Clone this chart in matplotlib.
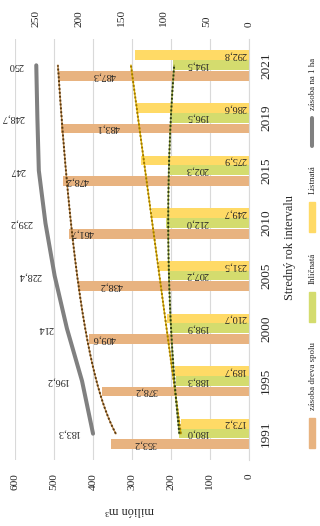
"""
Zásoba dreva - chart rebuilt sideways (horizontal bars, rotated text)
"""

import matplotlib
matplotlib.use("Agg")
import matplotlib.pyplot as plt
import numpy as np
from matplotlib.lines import Line2D
from matplotlib.patches import Rectangle

plt.rcParams["font.family"] = ["Liberation Serif", "DejaVu Serif"]

years = ["1991", "1995", "2000", "2005", "2010", "2015", "2019", "2021"]
total = [353.2, 378.2, 409.6, 438.2, 461.7, 478.2, 483.1, 487.3]
conifer = [180.0, 188.3, 198.9, 207.2, 212.0, 202.3, 196.5, 194.5]
broadleaf = [173.2, 189.7, 210.7, 231.5, 249.7, 275.9, 286.6, 292.8]
per_ha = [183.3, 196.2, 214, 228.4, 239.2, 247, 248.7, 250]

# labels in the orange bars were moved by hand in the original
total_label_at = [267, 264, 372, 354, 428, 441, 361, 372]
conifer_label_at = 133
broadleaf_label_at = 36

ORANGE = "#e8b380"
GREEN = "#d4dc6e"
YELLOW = "#ffda66"
GRAY = "#808080"
TEXT = "#262626"

W, H = 320, 526


def fx(px):
    return px / W


def fy(py):
    return 1 - py / H


def comma(v, fmt="{:.1f}"):
    return fmt.format(v).replace(".", ",")


fig = plt.figure(figsize=(W / 100, H / 100), dpi=100)
ax = fig.add_axes([fx(15), fy(460), (249 - 15) / W, (460 - 39) / H])

pos = np.arange(len(years))

ax.barh(pos - 0.2, total, height=0.185, color=ORANGE, zorder=2)
ax.barh(pos + 0.005, conifer, height=0.185, color=GREEN, zorder=2)
ax.barh(pos + 0.19, broadleaf, height=0.185, color=YELLOW, zorder=2)

for i in range(len(years)):
    ax.text(total_label_at[i], pos[i] - 0.2, comma(total[i]), rotation=180,
            ha="center", va="center", fontsize=7.4, color=TEXT, zorder=4)
    ax.text(conifer_label_at, pos[i] + 0.005, comma(conifer[i]), rotation=180,
            ha="center", va="center", fontsize=7.4, color=TEXT, zorder=4)
    ax.text(broadleaf_label_at, pos[i] + 0.19, comma(broadleaf[i]), rotation=180,
            ha="center", va="center", fontsize=7.4, color=TEXT, zorder=4)

# trendlines, fitted the way the spreadsheet does it
xs = np.linspace(1, len(years), 200)
idx = np.arange(1, len(years) + 1)

a, b = np.polyfit(np.log(idx), total, 1)
total_trend = a * np.log(xs) + b
conifer_trend = np.polyval(np.polyfit(idx, conifer, 2), xs)
broadleaf_trend = np.polyval(np.polyfit(idx, broadleaf, 1), xs)

for trend, under, dots in [
    (total_trend, "#c08a4a", "#5a3a10"),
    (broadleaf_trend, "#e0b400", "#a07800"),
    (conifer_trend, "#9aa840", "#2f3d10"),
]:
    ax.plot(trend, xs - 1, color=under, lw=1.0, zorder=3)
    ax.plot(trend, xs - 1, color=dots, lw=1.4, linestyle=(0, (1, 1)), zorder=3)

ax.set_xlim(600, 0)
ax.set_ylim(-0.5, len(years) - 0.5)
ax.set_xticks(range(0, 601, 100))
ax.xaxis.grid(True, color="#d9d9d9", lw=0.8)
ax.set_axisbelow(True)
for side in ["top", "left", "bottom"]:
    ax.spines[side].set_visible(False)
ax.spines["right"].set_color("#d9d9d9")
ax.tick_params(axis="x", length=0, pad=9.4, labelrotation=90,
               labelsize=8.2, labelcolor=TEXT)

ax.yaxis.tick_right()
ax.set_yticks(pos, years)
ax.tick_params(axis="y", length=0, pad=8, labelrotation=90,
               labelsize=9.5, labelcolor=TEXT)
for lbl in ax.get_yticklabels():
    lbl.set_va("center")

# secondary axis: stock per hectare
ax2 = ax.twiny()
ax2.set_xlim(275, 0)
ax2.set_xticks(range(0, 251, 50))
for side in ax2.spines:
    ax2.spines[side].set_visible(False)
ax2.tick_params(axis="x", length=0, pad=8.6, labelrotation=90,
                labelsize=8.2, labelcolor=TEXT)

ax2.plot(per_ha, pos, color=GRAY, lw=2.9, solid_capstyle="round", zorder=5)
for i, v in enumerate(per_ha):
    ax2.annotate(comma(v, "{:g}"), (v, pos[i]), xytext=(-13, 0),
                 textcoords="offset pixels", rotation=180,
                 rotation_mode="anchor", ha="left", va="center",
                 fontsize=7.4, color=TEXT)

# axis titles
fig.text(fx(130), fy(510), "milión m³", rotation=180, ha="center",
         va="center", fontsize=8.8, color=TEXT)
fig.text(fx(290), fy(248), "Stredný rok intervalu", rotation=90,
         ha="center", va="center", fontsize=8.8, color=TEXT)

# legend, drawn by hand because it runs sideways
for top, bottom, color, label in [
    (418, 448, ORANGE, "zásoba dreva spolu"),
    (292, 322, GREEN, "Ihličnatá"),
    (202, 232, YELLOW, "Listnatá"),
]:
    fig.add_artist(Rectangle((fx(309), fy(bottom)), 6 / W, (bottom - top) / H,
                             transform=fig.transFigure, color=color))
    fig.text(fx(313), fy(top - 8), label, rotation=90, rotation_mode="anchor",
             ha="left", va="center", fontsize=6.4, color=TEXT)

fig.add_artist(Line2D([fx(312), fx(312)], [fy(146), fy(118)],
                      transform=fig.transFigure, color=GRAY, lw=2.9,
                      solid_capstyle="round"))
fig.text(fx(313), fy(110), "zásoba na 1 ha", rotation=90, rotation_mode="anchor",
         ha="left", va="center", fontsize=6.4, color=TEXT)

fig.savefig("out.png", dpi=100)
